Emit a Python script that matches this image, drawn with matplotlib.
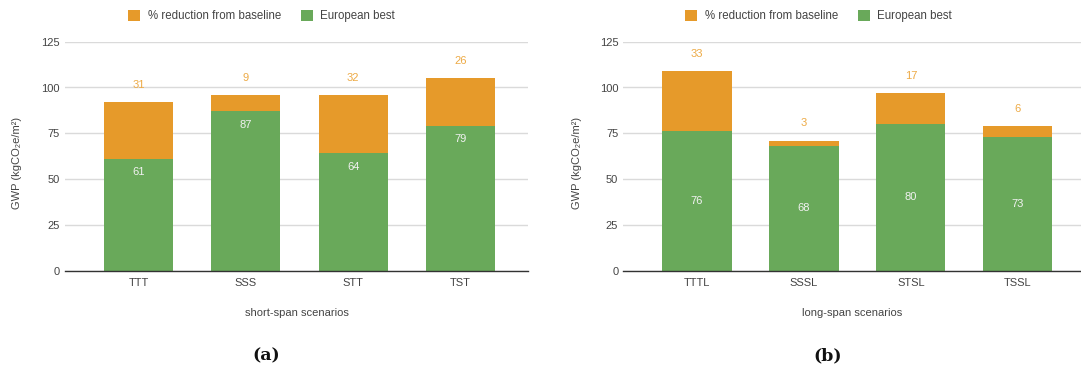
import matplotlib
matplotlib.use("Agg")
import matplotlib.pyplot as plt
import numpy as np

# Data
short_categories = ["TTT", "SSS", "STT", "TST"]
short_european_best = [61, 87, 64, 79]
short_reduction = [31, 9, 32, 26]

long_categories = ["TTTL", "SSSL", "STSL", "TSSL"]
long_european_best = [76, 68, 80, 73]
long_reduction = [33, 3, 17, 6]

y_ticks = [0, 25, 50, 75, 100, 125]
legend_labels = ["% reduction from baseline", "European best"]
y_title = "GWP (kgCO\u2082e/m\u00b2)"
x_titles = ["short-span scenarios", "long-span scenarios"]
panel_tags = ["(a)", "(b)"]

ORANGE = "#E69A2A"
GREEN = "#69A95A"
ORANGE_TXT = "#EDAA45"
GREEN_TXT = "#F2F2F2"
TEXT = "#444444"
GRID = "#DADADA"

plt.rcParams["font.family"] = ["Liberation Sans", "DejaVu Sans"]

W, H = 1081, 372
fig = plt.figure(figsize=(W / 100, H / 100), dpi=100)


def fx(px):
    return px / W


def fy(py):
    return 1 - py / H


def draw_panel(rect, cats, green, orange, xlim, width, green_mode):
    left, right, top, bottom = rect
    ax = fig.add_axes([fx(left), fy(bottom), fx(right) - fx(left), fy(top) - fy(bottom)])
    x = np.arange(len(cats))
    green = np.array(green)
    orange = np.array(orange)
    ax.bar(x, green, width, color=GREEN, label=legend_labels[1], zorder=2)
    ax.bar(x, orange, width, bottom=green, color=ORANGE, label=legend_labels[0], zorder=2)

    for xi, g, o in zip(x, green, orange):
        if green_mode == "top":
            ax.annotate(str(g), (xi, g), xytext=(0, -9.6), textcoords="offset points",
                        ha="center", va="center", color=GREEN_TXT, fontsize=8, zorder=3)
        else:
            ax.annotate(str(g), (xi, g / 2), ha="center", va="center",
                        color=GREEN_TXT, fontsize=8, zorder=3)
        ax.annotate(str(o), (xi, g + o), xytext=(0, 12.4), textcoords="offset points",
                    ha="center", va="center", color=ORANGE_TXT, fontsize=8, zorder=3,
                    annotation_clip=False)

    ax.set_xlim(*xlim)
    ax.set_ylim(0, 125)
    ax.set_yticks(y_ticks)
    ax.set_xticks(x)
    ax.set_xticklabels(cats)
    ax.tick_params(axis="both", length=0, labelsize=8, labelcolor=TEXT)
    ax.tick_params(axis="y", pad=3.6)
    ax.tick_params(axis="x", pad=5.5)
    for s in ax.spines.values():
        s.set_visible(False)
    ax.grid(axis="y", color=GRID, linewidth=1, zorder=0)
    ax.set_axisbelow(True)
    ax.axhline(0, color="#333333", linewidth=1, zorder=4, clip_on=False)
    return ax


panels = [
    dict(rect=(65, 528, 41.7, 270.7), cats=short_categories, green=short_european_best,
         orange=short_reduction, xlim=(-0.6875, 3.632), width=0.644, green_mode="top",
         xtitle_x=296.5, tag_x=266, ylabel_x=17.5, legend_x=261.5),
    dict(rect=(623.3, 1081, 41.7, 270.7), cats=long_categories, green=long_european_best,
         orange=long_reduction, xlim=(-0.689, 3.591), width=0.647, green_mode="center",
         xtitle_x=852, tag_x=828, ylabel_x=577, legend_x=818.5),
]

for i, p in enumerate(panels):
    ax = draw_panel(p["rect"], p["cats"], p["green"], p["orange"], p["xlim"], p["width"],
                    p["green_mode"])
    fig.text(fx(p["xtitle_x"]), fy(313.5), x_titles[i], ha="center", va="center",
             fontsize=8, color=TEXT)
    fig.text(fx(p["tag_x"]), fy(356), panel_tags[i], ha="center", va="center",
             fontsize=12.5, fontweight="bold", family="DejaVu Serif", color="#111111")
    fig.text(fx(p["ylabel_x"]), fy(162.5), y_title, rotation=90, ha="center", va="center",
             fontsize=8, color=TEXT)
    handles, labels = ax.get_legend_handles_labels()
    leg = fig.legend(handles[::-1], labels[::-1], loc="center",
                     bbox_to_anchor=(fx(p["legend_x"]), fy(16)), ncol=2, frameon=False,
                     fontsize=8.3, handlelength=1.05, handleheight=1.05, handletextpad=0.65,
                     columnspacing=1.7, borderpad=0)
    for t in leg.get_texts():
        t.set_color(TEXT)

fig.savefig("out.png", dpi=100)
